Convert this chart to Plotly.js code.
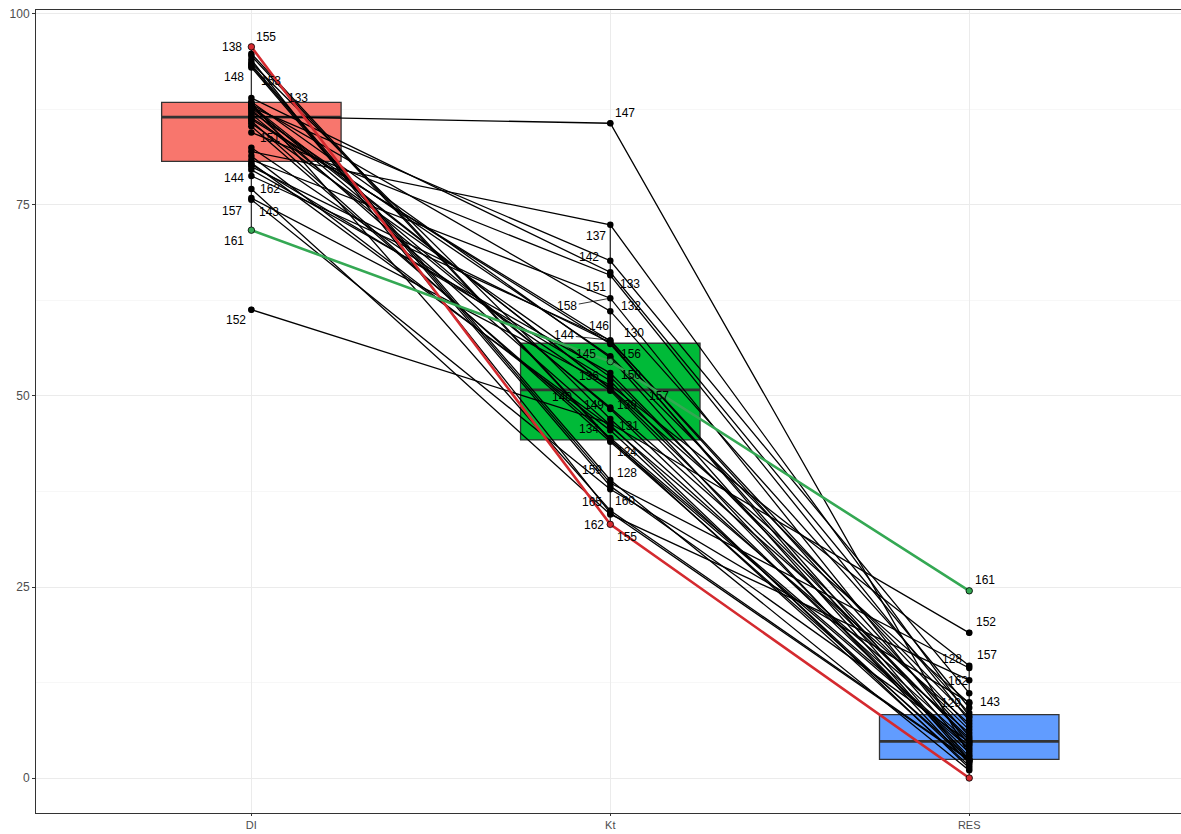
<!DOCTYPE html>
<html>
<head>
<meta charset="utf-8">
<script src="https://cdn.plot.ly/plotly-3.0.1.min.js"></script>
<style>
html,body{margin:0;padding:0;background:#fff;}
#chart{width:1181px;height:834px;}
</style>
</head>
<body>
<div id="chart"></div>
<script>
// ---- data ----
const categories = ['DI', 'Kt', 'RES'];
const subjectIds = [124,125,126,128,129,130,131,132,133,134,136,137,138,139,140,141,142,143,144,145,
                    146,147,148,149,150,151,152,153,154,155,156,157,158,159,160,161,162,163,164,165];
const diValues  = [86.0,85.3,81.4,93.2,87.7,86.2,87.5,88.2,89.0,80.5,79.6,82.0,94.5,86.9,82.5,88.0,87.8,75.7,78.8,88.5,
                   80.0,86.6,93.4,87.9,85.7,84.5,61.3,93.6,80.3,95.7,87.2,75.9,80.9,93.0,88.35,71.7,77.1,86.4,94.8,94.0];
const ktValues  = [44.0,44.5,45.5,38.6,51.0,57.2,46.2,61.1,66.2,46.0,53.0,72.4,44.2,48.5,50.7,50.9,67.7,37.8,57.3,55.0,
                   57.0,85.7,39.0,48.3,52.5,65.8,46.4,47.0,52.0,33.2,55.2,51.4,62.8,38.2,35.0,54.5,34.5,56.8,44.3,34.7];
const resValues = [2.5,4.2,2.1,14.4,9.8,6.7,1.3,8.5,9.2,5.9,4.9,8.1,3.9,7.1,2.8,5.2,11.1,9.9,5.5,2.2,
                   2.4,3.0,1.0,3.3,6.3,7.5,19.0,4.6,1.9,0.0,7.9,14.7,4.4,4.7,2.4,24.5,12.8,3.6,1.6,2.3];
// labelled subjects per category (ids whose labels are visible)
const labelsDI  = [155,138,148,153,133,151,144,162,157,143,161,152];
const labelsKt  = [147,137,142,151,133,158,132,146,130,144,145,156,136,150,140,157,149,139,134,131,124,159,128,165,160,162,155];
const labelsRES = [161,152,157,128,162,129,143];

// ---- styling (offsets in screen pixels, not data) ----
const boxFill = ['#F8766D', '#00BA38', '#619CFF'];
const highlightColor = {155: '#D42A2F', 161: '#34A853'};
const labelOffset = {
  'DI:155':[15,-10],'DI:138':[-19,-9],'DI:148':[-17,13],'DI:153':[20,18],'DI:133':[47,0],'DI:151':[19,6],
  'DI:144':[-17,2],'DI:162':[19,0],'DI:157':[-19,13],'DI:143':[18,12],'DI:161':[-17,11],'DI:152':[-15,10],
  'Kt:147':[15,-10],'Kt:137':[-14,11],'Kt:142':[-21,-4],'Kt:151':[-14,12],'Kt:133':[20,12],'Kt:158':[-43,8],
  'Kt:132':[21,-5],'Kt:146':[-11,-17],'Kt:130':[24,-8],'Kt:144':[-46,-5],'Kt:145':[-24,-4],'Kt:156':[21,-2],
  'Kt:136':[-21,3],'Kt:150':[21,-2],'Kt:140':[-48,6],'Kt:157':[49,11],'Kt:149':[-16,-4],'Kt:139':[17,-2],
  'Kt:134':[-21,2],'Kt:131':[19,1],'Kt:124':[17,10],'Kt:159':[-18,-16],'Kt:128':[17,-10],'Kt:165':[-18,-11],
  'Kt:160':[15,-10],'Kt:162':[-16,11],'Kt:155':[17,13],
  'RES:161':[16,-11],'RES:152':[17,-11],'RES:157':[18,-11],'RES:128':[-17,-9],'RES:162':[-11,1],
  'RES:129':[-18,0],'RES:143':[21,0]
};
const leaderLabels = {'Kt:158':true,'Kt:144':true};

const series = [diValues, ktValues, resValues];
const labelSets = [labelsDI, labelsKt, labelsRES];

function median(arr){
  const s = arr.slice().sort((a,b)=>a-b);
  const p = (s.length-1)*0.5, lo = Math.floor(p), hi = Math.ceil(p);
  return s[lo] + (s[hi]-s[lo])*(p-lo);
}

const traces = [];
// boxes
categories.forEach((c, i) => {
  traces.push({
    type: 'box', y: series[i], x0: i, width: 0.5,
    fillcolor: boxFill[i], line: {color: '#333333', width: 1.3},
    boxpoints: 'outliers', marker: {color: '#000', size: 6},
    whiskerwidth: 0, quartilemethod: 'linear', hoverinfo: 'skip', showlegend: false
  });
});
// thicker median lines
categories.forEach((c, i) => {
  const m = median(series[i]);
  traces.push({
    type: 'scatter', mode: 'lines', x: [i-0.25, i+0.25], y: [m, m],
    line: {color: '#333333', width: 2.6}, hoverinfo: 'skip', showlegend: false
  });
});
// subject lines (highlighted ones last)
const order = subjectIds.map((id, k) => k).sort((a, b) => {
  const ha = highlightColor[subjectIds[a]] ? 1 : 0, hb = highlightColor[subjectIds[b]] ? 1 : 0;
  return ha - hb;
});
order.forEach(k => {
  const id = subjectIds[k];
  const hc = highlightColor[id];
  traces.push({
    type: 'scatter', mode: 'lines+markers',
    x: categories.map((c, i) => i),
    y: [diValues[k], ktValues[k], resValues[k]],
    line: {color: hc || '#000000', width: hc ? 2.6 : 1.3},
    marker: {color: hc || '#000000', size: 6.5, line: {color: '#000', width: hc ? 0.8 : 0}},
    name: String(id), hoverinfo: 'name+y', showlegend: false
  });
});

// labels
const annotations = [];
categories.forEach((c, i) => {
  labelSets[i].forEach(id => {
    const k = subjectIds.indexOf(id);
    const key = c + ':' + id;
    const off = labelOffset[key] || [15, 0];
    const lead = !!leaderLabels[key];
    annotations.push({
      x: i, y: series[i][k], xref: 'x', yref: 'y', text: String(id),
      showarrow: true, ax: off[0], ay: off[1], axref: 'pixel', ayref: 'pixel',
      arrowhead: 0, arrowwidth: lead ? 0.8 : 0.1,
      arrowcolor: lead ? '#000' : 'rgba(0,0,0,0)', standoff: 3,
      font: {family: 'Liberation Sans, Arial, sans-serif', size: 12, color: '#000'}
    });
  });
});

const layout = {
  width: 1181, height: 834,
  margin: {l: 36, r: 0, t: 10, b: 21, pad: 0},
  paper_bgcolor: '#ffffff', plot_bgcolor: '#ffffff',
  font: {family: 'Liberation Sans, Arial, sans-serif', size: 12, color: '#4d4d4d'},
  showlegend: false,
  xaxis: {
    range: [-0.6, 2.59], tickvals: [0, 1, 2], ticktext: categories,
    showgrid: true, gridcolor: '#ebebeb', gridwidth: 1, zeroline: false,
    showline: true, mirror: true, linecolor: '#333333', linewidth: 1,
    ticks: 'outside', ticklen: 2, tickcolor: '#333333', tickwidth: 1,
    tickfont: {size: 11, color: '#4d4d4d'}
  },
  yaxis: {
    range: [-4.58, 100.52], tickvals: [0, 25, 50, 75, 100],
    showgrid: true, gridcolor: '#ebebeb', gridwidth: 1, zeroline: false,
    minor: {tickvals: [12.5, 37.5, 62.5, 87.5], showgrid: true, gridcolor: '#f2f2f2', gridwidth: 0.6, ticks: ''},
    showline: true, mirror: true, linecolor: '#333333', linewidth: 1,
    ticks: 'outside', ticklen: 3, tickcolor: '#333333', tickwidth: 1,
    tickfont: {size: 12, color: '#4d4d4d'}
  },
  annotations: annotations
};

Plotly.newPlot('chart', traces, layout, {displayModeBar: false, staticPlot: true});
</script>
</body>
</html>
